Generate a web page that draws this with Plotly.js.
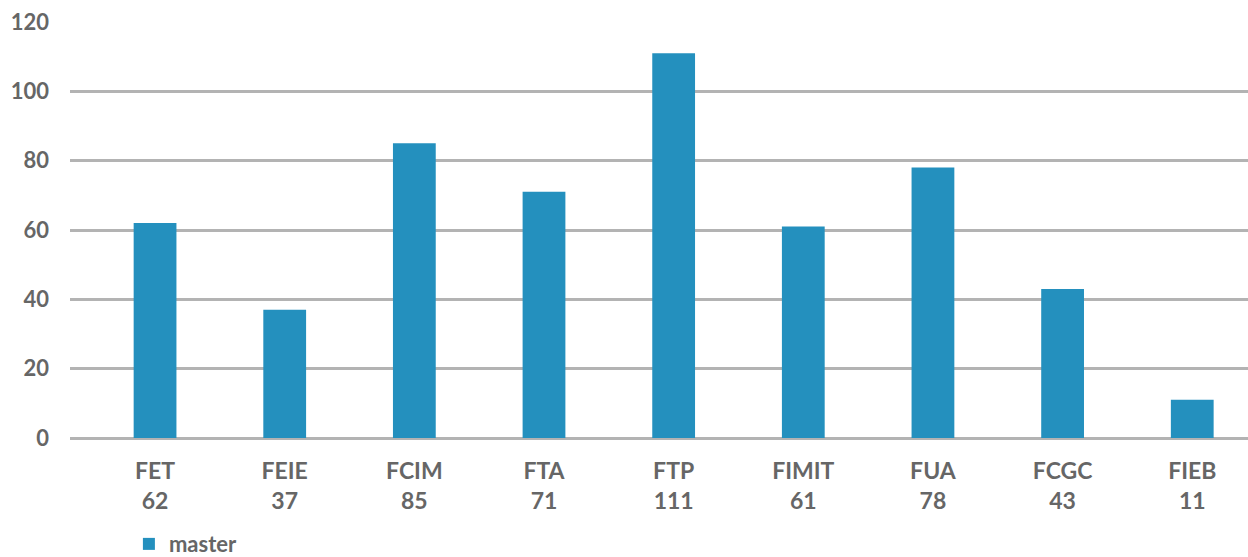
<!DOCTYPE html>
<html>
<head>
<meta charset="utf-8">
<script src="https://cdn.plot.ly/plotly-3.0.1.min.js"></script>
<style>html,body{margin:0;padding:0;background:#fff}#chart{width:1248px;height:557px}</style>
</head>
<body>
<div id="chart"></div>
<script>
const categories = ["FET", "FEIE", "FCIM", "FTA", "FTP", "FIMIT", "FUA", "FCGC", "FIEB"];
const masterValues = [62, 37, 85, 71, 111, 61, 78, 43, 11];
const seriesName = "master";
const yTicks = [0, 20, 40, 60, 80, 100, 120];

const tickText = categories.map((c, i) => c + "<br>" + masterValues[i]);

const trace = {
  type: "bar",
  x: categories,
  y: masterValues,
  name: seriesName,
  width: 0.33,
  marker: {color: "#2490BE"},
  hoverinfo: "x+y"
};

const layout = {
  width: 1248,
  height: 557,
  margin: {l: 70, r: 0, t: 22, b: 119, autoexpand: false},
  paper_bgcolor: "#fff",
  plot_bgcolor: "#fff",
  font: {family: "Lato, 'Open Sans', sans-serif", color: "#666", size: 22},
  showlegend: true,
  legend: {
    orientation: "h",
    x: 0.05, xanchor: "left",
    y: -0.255, yanchor: "middle",
    font: {size: 22, color: "#666", weight: "bold"},
    itemwidth: 30
  },
  xaxis: {
    type: "category",
    range: [-0.656, 8.43],
    tickmode: "array",
    tickvals: categories,
    ticktext: tickText,
    tickfont: {size: 23, color: "#666", weight: "bold"},
    ticks: "",
    ticklabelstandoff: 17,
    automargin: false,
    showgrid: false,
    zeroline: false,
    showline: false,
    fixedrange: true
  },
  yaxis: {
    range: [0, 120],
    tickmode: "array",
    tickvals: yTicks,
    tickfont: {size: 22, color: "#666", weight: "bold"},
    ticks: "",
    ticklabelstandoff: 20,
    automargin: false,
    showgrid: true,
    gridcolor: "#b3b3b3",
    gridwidth: 2.5,
    zeroline: true,
    zerolinecolor: "#b3b3b3",
    zerolinewidth: 2.5,
    showline: false,
    fixedrange: true
  }
};

Plotly.newPlot("chart", [trace], layout, {displayModeBar: false});
</script>
</body>
</html>
